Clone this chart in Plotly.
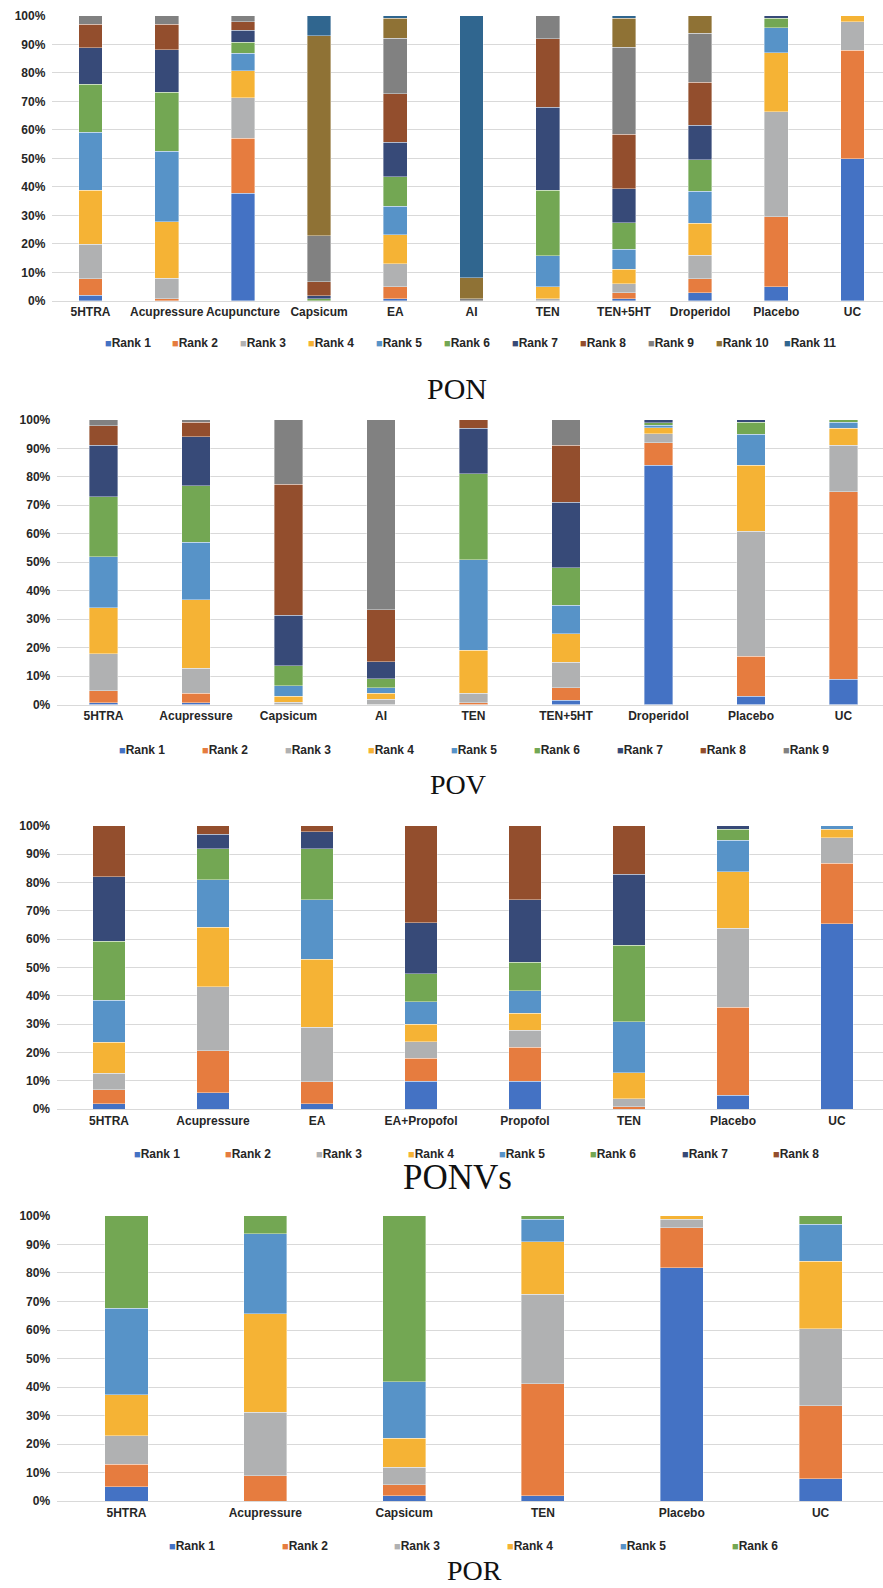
import plotly.graph_objects as go

# ---------------- data (percent of each rank per intervention) ----------------
rank_names = ["Rank 1", "Rank 2", "Rank 3", "Rank 4", "Rank 5", "Rank 6",
              "Rank 7", "Rank 8", "Rank 9", "Rank 10", "Rank 11"]

pon_categories = ["5HTRA", "Acupressure", "Acupuncture", "Capsicum", "EA", "AI",
                  "TEN", "TEN+5HT", "Droperidol", "Placebo", "UC"]
pon_values = [
    [1.9, 0, 37.7, 0, 0.8, 0, 0, 0.7, 2.9, 4.9, 49.9],
    [5.9, 0.8, 19.4, 0, 4.2, 0, 0, 2.2, 4.9, 24.6, 38.1],
    [12.1, 7.2, 14.2, 0, 8.0, 0, 0.8, 3.1, 8.3, 36.8, 10.0],
    [19.0, 19.7, 9.4, 0, 10.2, 0, 4.1, 5.1, 11.2, 20.8, 2.0],
    [20.2, 24.8, 6.2, 0, 10.0, 0, 11.0, 7.0, 11.1, 8.8, 0],
    [17.0, 20.8, 3.9, 0.8, 10.3, 0, 23.0, 9.3, 11.1, 3.2, 0],
    [12.8, 14.9, 4.1, 1.0, 12.1, 0, 29.1, 12.0, 12.1, 0.9, 0],
    [8.2, 8.9, 3.1, 5.0, 17.1, 0, 24.0, 19.1, 15.1, 0, 0],
    [2.9, 2.9, 2.0, 16.1, 19.5, 0.8, 8.0, 30.5, 17.2, 0, 0],
    [0, 0, 0, 70.2, 7.0, 7.3, 0, 10.2, 6.1, 0, 0],
    [0, 0, 0, 6.9, 0.8, 91.9, 0, 0.8, 0, 0, 0],
]

pov_categories = ["5HTRA", "Acupressure", "Capsicum", "AI", "TEN", "TEN+5HT",
                  "Droperidol", "Placebo", "UC"]
pov_values = [
    [0.7, 0.7, 0, 0, 0, 1.6, 84.0, 2.9, 8.9],
    [4.2, 3.2, 0, 0, 0.7, 4.4, 8.0, 14.0, 65.9],
    [13.0, 8.9, 0.8, 1.8, 3.2, 8.9, 3.1, 44.0, 16.2],
    [16.1, 24.1, 2.1, 2.1, 15.2, 9.9, 2.1, 23.2, 6.1],
    [18.0, 20.1, 3.8, 2.1, 31.8, 10.1, 0.9, 10.9, 2.0],
    [21.0, 19.9, 6.9, 3.0, 30.1, 13.1, 0.8, 4.1, 0.9],
    [18.0, 17.2, 17.7, 6.1, 16.0, 23.0, 1.1, 0.9, 0],
    [7.0, 5.0, 46.0, 18.2, 3.0, 20.0, 0, 0, 0],
    [2.0, 0.9, 22.7, 66.7, 0, 9.0, 0, 0, 0],
]

ponvs_categories = ["5HTRA", "Acupressure", "EA", "EA+Propofol", "Propofol",
                    "TEN", "Placebo", "UC"]
ponvs_values = [
    [1.9, 5.8, 1.9, 9.8, 9.8, 0, 4.9, 65.4],
    [4.9, 14.8, 7.8, 8.1, 12.0, 0.8, 31.0, 21.4],
    [5.9, 22.7, 19.3, 5.9, 6.1, 2.9, 28.0, 9.1],
    [10.9, 21.0, 23.9, 6.1, 6.0, 9.2, 20.0, 2.9],
    [14.8, 16.7, 21.0, 8.0, 7.9, 17.9, 11.1, 1.2],
    [20.8, 10.9, 18.0, 10.0, 10.1, 27.0, 3.8, 0],
    [22.8, 5.1, 6.0, 18.0, 22.0, 25.1, 1.2, 0],
    [18.0, 3.0, 2.1, 34.1, 26.1, 17.1, 0, 0],
]

por_categories = ["5HTRA", "Acupressure", "Capsicum", "TEN", "Placebo", "UC"]
por_values = [
    [5.0, 0, 1.9, 1.9, 81.9, 7.9],
    [7.9, 9.0, 3.9, 39.3, 14.0, 25.6],
    [10.1, 22.2, 6.1, 31.3, 2.9, 26.9],
    [14.3, 34.5, 10.1, 18.4, 1.2, 23.7],
    [30.3, 28.1, 19.9, 7.9, 0, 13.0],
    [32.4, 6.2, 58.1, 1.2, 0, 2.9],
]

y_ticks = [0, 10, 20, 30, 40, 50, 60, 70, 80, 90, 100]
y_tick_labels = [f"{v}%" for v in y_ticks]

# ---------------- style ----------------
rank_colors = ["#4472C4", "#E67C3F", "#B0B1B2", "#F5B335", "#5793C8", "#73A753",
               "#374A78", "#934E2D", "#818181", "#8F7235", "#30668F"]

W, H = 883, 1588
TXT = "#262626"
GRID = "#D9D9D9"

panels = [
    dict(title="PON", cats=pon_categories, vals=pon_values,
         top=9, bottom=296.5, left=52.4, right=890.6,
         leg_y=338.8, leg_x0=102.5, leg_step=67.9,
         title_x=457, title_y=385, title_size=30),
    dict(title="POV", cats=pov_categories, vals=pov_values,
         top=416.5, bottom=703.8, left=57.25, right=889.75,
         leg_y=749.5, leg_x0=116.6, leg_step=83.0,
         title_x=458, title_y=784, title_size=28),
    dict(title="PONVs", cats=ponvs_categories, vals=ponvs_values,
         top=826.2, bottom=1112.0, left=57.0, right=889.0,
         leg_y=1157, leg_x0=131.8, leg_step=91.3,
         title_x=458, title_y=1181, title_size=35),
    dict(title="POR", cats=por_categories, vals=por_values,
         top=1219.7, bottom=1507.5, left=57.1, right=890.0,
         leg_y=1552.5, leg_x0=167.2, leg_step=112.6,
         title_x=475, title_y=1577, title_size=28),
]

fig = go.Figure()
annotations = []
layout_axes = {}

for p_i, p in enumerate(panels):
    suffix = "" if p_i == 0 else str(p_i + 1)
    xref, yref = "x" + suffix, "y" + suffix
    n = len(p["cats"])
    for r_i, row in enumerate(p["vals"]):
        fig.add_trace(go.Bar(
            x=p["cats"], y=[v if v else None for v in row],
            name=rank_names[r_i],
            marker=dict(color=rank_colors[r_i],
                        line=dict(color="rgba(255,255,255,0.55)", width=0.7)),
            xaxis=xref, yaxis=yref, showlegend=False,
        ))
    step = (p["right"] - p["left"]) / n
    x_end = (W - p["left"]) / step - 0.5
    layout_axes["xaxis" + suffix] = dict(
        domain=[p["left"] / W, 1], range=[-0.5, x_end], anchor=yref,
        type="category", showgrid=False, showline=True, linecolor=GRID,
        linewidth=1.3, ticks="", zeroline=False,
        tickfont=dict(family="Liberation Sans", size=12, color=TXT, weight="bold"),
    )
    layout_axes["yaxis" + suffix] = dict(
        domain=[1 - p["bottom"] / H, 1 - p["top"] / H], range=[0, 100],
        anchor=xref, tickmode="array", tickvals=y_ticks, ticktext=y_tick_labels,
        showgrid=True, gridcolor=GRID, gridwidth=1.2, showline=False,
        zeroline=False, ticks="", ticklabelstandoff=6,
        tickfont=dict(family="Liberation Sans", size=12, color=TXT, weight="bold"),
    )
    # legend row (one entry per rank in this panel)
    for r_i in range(len(p["vals"])):
        annotations.append(dict(
            xref="paper", yref="paper",
            x=(p["leg_x0"] + r_i * p["leg_step"]) / W, y=1 - p["leg_y"] / H,
            xanchor="left", yanchor="middle", showarrow=False,
            text=f"<span style='color:{rank_colors[r_i]};font-size:11px'>■</span>{rank_names[r_i]}",
            font=dict(family="Liberation Sans", size=12, color=TXT, weight="bold"),
        ))
    # panel caption
    annotations.append(dict(
        xref="paper", yref="paper", x=p["title_x"] / W, y=1 - p["title_y"] / H,
        xanchor="center", yanchor="middle", showarrow=False, text=p["title"],
        font=dict(family="Liberation Serif", size=p["title_size"], color="#111111"),
    ))

fig.update_layout(
    width=W, height=H, margin=dict(l=0, r=0, t=0, b=0),
    barmode="stack", bargap=0.69,
    plot_bgcolor="white", paper_bgcolor="white",
    showlegend=False, annotations=annotations, **layout_axes,
)

fig.write_html(
    "out.html",
    config={"displayModeBar": False},
    post_script="document.body.style.margin='0';document.body.style.padding='0';"
                "document.documentElement.style.overflow='hidden';",
)
